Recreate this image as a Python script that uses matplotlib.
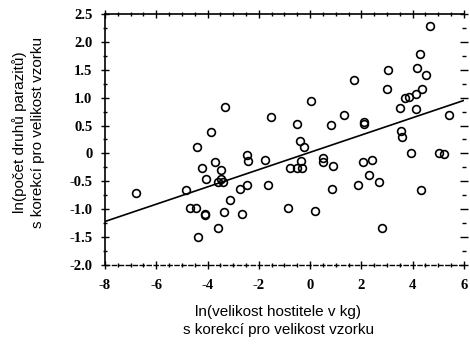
import matplotlib
matplotlib.use("Agg")
import matplotlib.pyplot as plt
import numpy as np
from matplotlib.ticker import MultipleLocator, FuncFormatter

# host body size (ln kg, sample-size corrected)
host_size = [
    4.68, 4.30, 3.03, 4.16, 4.51, 1.70, 2.99, 4.36, 3.71, 3.87,
    4.13, 3.51, 4.13, 5.43, -3.33, -3.87, -1.54, 0.02, -0.50, 0.83,
    1.33, 2.10, 2.12, 3.54, 3.60, -0.41, -0.25, -4.42, 3.93, 5.04,
    5.23, -6.78, -4.85, -4.68, -4.45, -4.20, -4.07, -4.09, -4.10, -4.37,
    -3.70, -3.46, -3.58, -3.46, -3.39, -3.36, -3.58, -3.11, -2.73, -2.64,
    -2.46, -2.41, -2.45, -1.75, -1.64, -0.85, -0.78, -0.50, -0.32, -0.34,
    0.19, 0.51, 0.51, 0.88, 0.84, 1.88, 2.05, 2.40, 2.30, 2.69,
    2.79, 4.32,
]
# parasite species count (ln, sample-size corrected)
parasite_count = [
    2.28, 1.79, 1.49, 1.54, 1.40, 1.31, 1.16, 1.16, 1.00, 1.02,
    1.07, 0.81, 0.79, 0.69, 0.83, 0.39, 0.66, 0.94, 0.53, 0.51,
    0.69, 0.52, 0.56, 0.41, 0.30, 0.22, 0.11, 0.12, 0.01, 0.01,
    -0.01, -0.71, -0.66, -0.97, -0.97, -0.27, -0.45, -1.08, -1.11, -1.50,
    -0.15, -0.30, -0.51, -0.45, -0.51, -1.05, -1.33, -0.84, -0.63, -1.09,
    -0.02, -0.13, -0.56, -0.11, -0.56, -0.97, -0.27, -0.26, -0.27, -0.13,
    -1.03, -0.08, -0.15, -0.23, -0.63, -0.56, -0.15, -0.11, -0.39, -0.51,
    -1.33, -0.66,
]

# regression line
fit_intercept = 0.02
fit_slope = 0.155
fit_range = [-8, 6]

fig = plt.figure(figsize=(4.7, 3.44), dpi=100)
ax = fig.add_axes([0.2234, 0.2297, 0.7636, 0.7297])

ax.plot(host_size, parasite_count, "o", ms=5.6, mfc="none", mec="black", mew=1.2)
fx = np.array(fit_range, dtype=float)
ax.plot(fx, fit_intercept + fit_slope * fx, color="black", lw=1.2)

ax.set_xlim(-8, 6)
ax.set_ylim(-2.0, 2.5)
ax.xaxis.set_major_locator(MultipleLocator(2))
ax.xaxis.set_minor_locator(MultipleLocator(0.5))
ax.yaxis.set_major_locator(MultipleLocator(0.5))
ax.yaxis.set_minor_locator(MultipleLocator(0.25))
ax.yaxis.set_major_formatter(FuncFormatter(lambda v, p: "0" if abs(v) < 1e-9 else f"{v:.1f}"))
ax.xaxis.set_major_formatter(FuncFormatter(lambda v, p: f"{v:.0f}"))

ax.tick_params(which="both", direction="inout", top=True, right=True,
               width=1.0, color="black")
ax.tick_params(which="major", length=6)
ax.tick_params(axis="y", which="major", pad=6)
ax.tick_params(axis="x", which="major", pad=7)
ax.tick_params(which="minor", length=3)
for lab in ax.get_xticklabels() + ax.get_yticklabels():
    lab.set_fontfamily("Liberation Serif")
    lab.set_fontweight("bold")
    lab.set_fontsize(10.5)

for side in ["left", "top"]:
    ax.spines[side].set_linewidth(1.2)
ax.spines["bottom"].set_linewidth(1.0)
ax.spines["bottom"].set_linestyle((0, (3, 2)))
ax.spines["right"].set_visible(False)

ax.set_xlabel("ln(velikost hostitele v kg)\ns korekcí pro velikost vzorku",
              fontfamily="Liberation Sans", fontsize=11, linespacing=1.35,
              va="center")
ax.xaxis.set_label_coords(0.483, -0.223)
ax.set_ylabel("ln(počet druhů parazitů)\ns korekcí pro velikost vzorku",
              fontfamily="Liberation Sans", fontsize=11, linespacing=1.35,
              va="center")
ax.yaxis.set_label_coords(-0.212, 0.53)

fig.savefig("out.png", dpi=100)
